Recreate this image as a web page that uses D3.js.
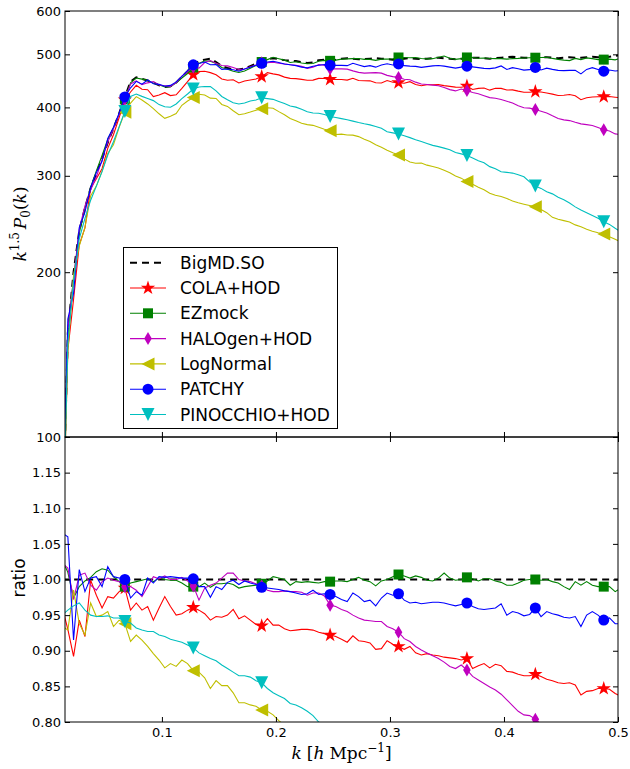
<!DOCTYPE html>
<html>
<head>
<meta charset="utf-8">
<script src="https://cdn.jsdelivr.net/npm/d3@7"></script>
<style>
  body { margin: 0; background: #fff; }
  svg { display: block; }
  text { font-family: "DejaVu Sans", sans-serif; fill: #000; }
</style>
</head>
<body>
<svg id="chart" width="630" height="769"></svg>
<script>
// Wavenumbers of the measured power spectrum bins [h/Mpc]
const kVals = [
  0.0125,0.0175,0.0225,0.0275,0.0325,0.0375,0.0425,0.0475,0.0525,0.0575,
  0.0625,0.0675,0.0725,0.0775,0.0825,0.0875,0.0925,0.0975,0.1025,0.1075,
  0.1125,0.1175,0.1225,0.1275,0.1325,0.1375,0.1425,0.1475,0.1525,0.1575,
  0.1625,0.1675,0.1725,0.1775,0.1825,0.1875,0.1925,0.1975,0.2025,0.2075,
  0.2125,0.2175,0.2225,0.2275,0.2325,0.2375,0.2425,0.2475,0.2525,0.2575,
  0.2625,0.2675,0.2725,0.2775,0.2825,0.2875,0.2925,0.2975,0.3025,0.3075,
  0.3125,0.3175,0.3225,0.3275,0.3325,0.3375,0.3425,0.3475,0.3525,0.3575,
  0.3625,0.3675,0.3725,0.3775,0.3825,0.3875,0.3925,0.3975,0.4025,0.4075,
  0.4125,0.4175,0.4225,0.4275,0.4325,0.4375,0.4425,0.4475,0.4525,0.4575,
  0.4625,0.4675,0.4725,0.4775,0.4825,0.4875,0.4925,0.4975,0.5025
];

// Reference monopole k^1.5 P0(k) of the BigMD.SO catalogue
const bigmdP = [
  62,155,200,238,262,285,303,322,345,366,
  390,418,446,454,451,448,444,439,436,437,
  444,455,466,478,486,489,491,484,476,472,
  469,469,471,476,481,487,490,492,490,488,
  487,486,484,482,483,488,489,488,489,491,
  492,491,490,490,491,492,491,490,489,490,
  491,492,491,490,491,492,493,492,491,490,
  491,492,493,493,492,491,492,493,494,495,
  494,493,493,493,494,494,493,492,493,494,
  493,493,494,495,494,494,495,497,498
];

// Ratio of each mock monopole to the BigMD.SO reference
const colaRatio = [
  0.962,0.930,0.892,0.943,0.920,0.999,0.978,0.960,0.976,0.974,
  0.983,0.988,0.957,0.967,0.957,0.962,0.943,0.960,0.976,0.962,
  0.950,0.952,0.957,0.961,0.957,0.952,0.943,0.948,0.947,0.950,
  0.958,0.945,0.949,0.943,0.937,0.935,0.945,0.936,0.936,0.931,
  0.928,0.929,0.930,0.930,0.929,0.926,0.924,0.922,0.920,0.916,
  0.912,0.921,0.914,0.913,0.911,0.902,0.903,0.914,0.909,0.906,
  0.902,0.906,0.897,0.894,0.896,0.894,0.893,0.891,0.890,0.889,
  0.887,0.889,0.875,0.879,0.882,0.876,0.881,0.879,0.871,0.870,
  0.867,0.865,0.865,0.867,0.864,0.860,0.858,0.855,0.854,0.855,
  0.852,0.838,0.843,0.844,0.847,0.847,0.846,0.840,0.836
];
const ezmockRatio = [
  1.028,1.010,0.974,0.990,0.998,1.003,1.011,1.015,1.013,1.004,
  0.997,0.990,0.995,0.997,0.999,1.001,0.997,1.002,1.000,0.999,
  0.999,0.995,0.990,0.990,0.990,0.995,0.989,0.994,0.994,0.995,
  0.993,0.988,0.990,0.991,0.992,0.994,0.998,1.004,1.002,1.000,
  0.992,0.997,0.996,0.997,0.996,0.995,0.997,0.997,0.998,0.998,
  0.997,1.000,1.003,0.999,0.997,0.991,0.998,1.000,1.004,1.007,
  1.005,1.002,1.005,1.003,0.999,0.998,1.002,1.009,1.002,0.999,
  1.000,1.003,1.001,0.998,1.001,1.001,0.998,0.996,0.992,0.992,
  0.995,0.999,1.000,1.000,0.999,1.000,0.997,0.995,0.990,0.986,
  0.997,0.992,0.997,0.992,0.990,0.990,0.990,0.983,0.988
];
const halogenRatio = [
  1.023,1.016,0.972,1.006,1.009,0.992,0.985,0.997,1.002,0.999,
  0.997,0.990,0.990,0.985,0.976,0.990,1.004,1.001,1.005,1.000,
  1.000,1.003,0.998,0.991,0.971,0.988,0.992,0.995,1.002,1.009,
  1.009,1.000,0.998,0.997,0.994,0.991,0.985,0.983,0.983,0.984,
  0.983,0.983,0.982,0.978,0.981,0.981,0.977,0.964,0.962,0.958,
  0.955,0.950,0.946,0.943,0.942,0.941,0.941,0.934,0.931,0.926,
  0.917,0.913,0.906,0.901,0.897,0.893,0.889,0.884,0.878,0.875,
  0.880,0.873,0.864,0.859,0.854,0.849,0.845,0.839,0.831,0.823,
  0.815,0.810,0.809,0.804,0.797,0.791,0.783,0.776,0.770,0.766,
  0.762,0.757,0.753,0.749,0.744,0.737,0.732,0.720,0.716
];
const lognormalRatio = [
  0.935,0.929,0.985,0.938,0.922,0.967,0.948,0.950,0.955,0.934,
  0.943,0.938,0.913,0.922,0.915,0.906,0.896,0.887,0.876,0.882,
  0.878,0.887,0.882,0.872,0.870,0.862,0.847,0.858,0.851,0.851,
  0.841,0.827,0.827,0.824,0.822,0.817,0.815,0.810,0.802,0.795,
  0.784,0.778,0.773,0.772,0.768,0.754,0.746,0.743,0.730,0.728,
  0.724,0.725,0.722,0.714,0.706,0.695,0.689,0.682,0.676,0.668,
  0.656,0.646,0.644,0.646,0.639,0.634,0.629,0.624,0.619,0.612,
  0.605,0.595,0.587,0.580,0.575,0.568,0.562,0.558,0.552,0.545,
  0.542,0.540,0.537,0.534,0.527,0.520,0.511,0.508,0.504,0.500,
  0.495,0.491,0.485,0.480,0.478,0.4755,0.469,0.462,0.456
];
const patchyRatio = [
  1.065,1.060,0.915,1.014,0.983,1.002,1.004,0.990,1.018,1.004,
  1.002,1.000,0.974,0.983,0.978,1.002,0.995,1.004,1.003,1.004,
  1.003,1.002,1.002,1.001,0.990,0.990,0.975,0.990,0.986,0.996,
  0.999,0.993,0.998,0.995,0.993,0.989,0.988,0.987,0.986,0.984,
  0.983,0.981,0.979,0.980,0.985,0.979,0.980,0.979,0.976,0.972,
  0.969,0.981,0.976,0.969,0.971,0.963,0.974,0.981,0.978,0.980,
  0.971,0.967,0.968,0.966,0.967,0.968,0.968,0.967,0.965,0.963,
  0.965,0.967,0.962,0.959,0.958,0.959,0.960,0.966,0.950,0.955,
  0.953,0.949,0.951,0.960,0.948,0.955,0.952,0.950,0.947,0.946,
  0.948,0.934,0.950,0.955,0.950,0.943,0.946,0.938,0.938
];
const pinocchioRatio = [
  0.950,0.957,0.963,0.967,0.957,0.950,0.948,0.948,0.949,0.946,
  0.946,0.941,0.939,0.932,0.929,0.927,0.927,0.922,0.920,0.916,
  0.914,0.912,0.908,0.904,0.897,0.893,0.889,0.886,0.880,0.875,
  0.870,0.865,0.865,0.863,0.858,0.855,0.847,0.841,0.837,0.833,
  0.826,0.824,0.820,0.815,0.809,0.800,0.794,0.789,0.784,0.777,
  0.772,0.769,0.766,0.762,0.757,0.750,0.746,0.737,0.735,0.730,
  0.723,0.716,0.711,0.707,0.700,0.693,0.688,0.685,0.682,0.675,
  0.670,0.664,0.656,0.648,0.644,0.635,0.628,0.619,0.616,0.613,
  0.610,0.606,0.593,0.583,0.576,0.568,0.564,0.557,0.550,0.5415,
  0.534,0.527,0.520,0.513,0.508,0.5006,0.494,0.484,0.476
];

const refName = "BigMD.SO";
const mockNames = ["COLA+HOD", "EZmock", "HALOgen+HOD", "LogNormal", "PATCHY", "PINOCCHIO+HOD"];
const mockRatios = [colaRatio, ezmockRatio, halogenRatio, lognormalRatio, patchyRatio, pinocchioRatio];

const topTicks = [100, 200, 300, 400, 500, 600];
const ratioTicks = [0.80, 0.85, 0.90, 0.95, 1.00, 1.05, 1.10, 1.15];
const kTicks = [0.1, 0.2, 0.3, 0.4, 0.5];

// ---- styling ----
const mockColors = ["#ff0000", "#008000", "#bf00bf", "#bfbf00", "#0000ff", "#00bfbf"];
const mockShapes = ["star", "square", "thinDiamond", "triLeft", "circle", "triDown"];
const markerEvery = 12, markerOffset = 11;

const L = 65, R = 618, T = 11, MID = 437, B = 722;
const svg = d3.select("#chart");

const x = d3.scaleLinear().domain([0.015, 0.5]).range([L, R]);
const yTop = d3.scaleLog().domain([100, 600]).range([MID, T]);
const yBot = d3.scaleLinear().domain([0.8, 1.2]).range([B, MID]);

function markerPath(shape) {
  switch (shape) {
    case "circle": return d3.symbol(d3.symbolCircle, Math.PI * 5.5 * 5.5)();
    case "square": return "M-5,-5h10v10h-10Z";
    case "star": return d3.symbol(d3.symbolStar, 64)();
    case "thinDiamond": return "M0,-6.5L3.8,0L0,6.5L-3.8,0Z";
    case "triLeft": return "M-6.5,0L6.5,-6.5L6.5,6.5Z";
    case "triDown": return "M0,6.5L-6.5,-6.5L6.5,-6.5Z";
  }
}

const defs = svg.append("defs");
defs.append("clipPath").attr("id", "clipTop")
  .append("rect").attr("x", L).attr("y", T).attr("width", R - L).attr("height", MID - T);
defs.append("clipPath").attr("id", "clipBot")
  .append("rect").attr("x", L).attr("y", MID).attr("width", R - L).attr("height", B - MID);

function drawPanel(clipId, yScale, refValues, mockValues) {
  const g = svg.append("g").attr("clip-path", `url(#${clipId})`);
  const line = d3.line().x(d => x(d.k)).y(d => yScale(d.v));
  const refPts = kVals.map((k, i) => ({ k, v: refValues[i] }));
  g.append("path").datum(refPts)
    .attr("d", line).attr("fill", "none")
    .attr("stroke", "#000").attr("stroke-width", 2).attr("stroke-dasharray", "7,5");
  mockValues.forEach((vals, j) => {
    const pts = kVals.map((k, i) => ({ k, v: vals[i] }));
    g.append("path").datum(pts)
      .attr("d", line).attr("fill", "none")
      .attr("stroke", mockColors[j]).attr("stroke-width", 1.1);
    g.selectAll(null)
      .data(pts.filter((d, i) => i % markerEvery === markerOffset))
      .join("path")
      .attr("d", markerPath(mockShapes[j]))
      .attr("transform", d => `translate(${x(d.k)},${yScale(d.v)})`)
      .attr("fill", mockColors[j]);
  });
}

// Upper panel: k^1.5 P0(k), mocks = ratio x reference
drawPanel("clipTop", yTop, bigmdP,
  mockRatios.map(r => r.map((v, i) => v * bigmdP[i])));
// Lower panel: ratio to the reference
drawPanel("clipBot", yBot, kVals.map(() => 1), mockRatios);

// ---- axes ----
function styleAxis(g) {
  g.select(".domain").remove();
  g.selectAll(".tick line").attr("stroke", "#000");
  g.selectAll(".tick text").attr("font-size", 13).attr("font-family", "DejaVu Sans, sans-serif");
}
const tk = -5;

svg.append("g").attr("transform", `translate(${L},0)`)
  .call(d3.axisLeft(yTop).tickValues(topTicks).tickFormat(d3.format("d")).tickSizeInner(tk).tickSizeOuter(0).tickPadding(4))
  .call(styleAxis);
svg.append("g").attr("transform", `translate(${R},0)`)
  .call(d3.axisRight(yTop).tickValues(topTicks).tickFormat("").tickSizeInner(tk).tickSizeOuter(0))
  .call(styleAxis);
svg.append("g").attr("transform", `translate(0,${T})`)
  .call(d3.axisTop(x).tickValues(kTicks).tickFormat("").tickSizeInner(tk).tickSizeOuter(0))
  .call(styleAxis);
svg.append("g").attr("transform", `translate(0,${MID})`)
  .call(d3.axisBottom(x).tickValues(kTicks).tickFormat("").tickSizeInner(tk).tickSizeOuter(0))
  .call(styleAxis);

svg.append("g").attr("transform", `translate(${L},0)`)
  .call(d3.axisLeft(yBot).tickValues(ratioTicks).tickFormat(d3.format(".2f")).tickSizeInner(tk).tickSizeOuter(0).tickPadding(4))
  .call(styleAxis);
svg.append("g").attr("transform", `translate(${R},0)`)
  .call(d3.axisRight(yBot).tickValues(ratioTicks).tickFormat("").tickSizeInner(tk).tickSizeOuter(0))
  .call(styleAxis);
svg.append("g").attr("transform", `translate(0,${MID})`)
  .call(d3.axisTop(x).tickValues(kTicks).tickFormat("").tickSizeInner(tk).tickSizeOuter(0))
  .call(styleAxis);
svg.append("g").attr("transform", `translate(0,${B})`)
  .call(d3.axisBottom(x).tickValues(kTicks).tickFormat(d3.format(".1f")).tickSizeInner(tk).tickSizeOuter(0).tickPadding(6))
  .call(styleAxis);

// panel frames
[[T, MID], [MID, B]].forEach(([y0, y1]) => {
  svg.append("rect").attr("x", L).attr("y", y0).attr("width", R - L).attr("height", y1 - y0)
    .attr("fill", "none").attr("stroke", "#000").attr("stroke-width", 1);
});

// ---- axis labels ----
const yLab = svg.append("text")
  .attr("transform", "translate(26,224) rotate(-90)")
  .attr("text-anchor", "middle")
  .style("font-family", "DejaVu Serif, serif")
  .attr("font-size", 17);
yLab.append("tspan").attr("font-style", "italic").text("k");
yLab.append("tspan").attr("dy", -7).attr("font-size", 12).text("1.5");
yLab.append("tspan").attr("dy", 7).attr("dx", 3).attr("font-style", "italic").text("P");
yLab.append("tspan").attr("dy", 4).attr("font-size", 12).text("0");
yLab.append("tspan").attr("dy", -4).text("(");
yLab.append("tspan").attr("font-style", "italic").text("k");
yLab.append("tspan").text(")");

svg.append("text")
  .attr("transform", "translate(25,578) rotate(-90)")
  .attr("text-anchor", "middle")
  .attr("font-size", 17)
  .text("ratio");

const xLab = svg.append("text")
  .attr("x", (L + R) / 2).attr("y", 759)
  .attr("text-anchor", "middle")
  .style("font-family", "DejaVu Serif, serif")
  .attr("font-size", 17);
xLab.append("tspan").attr("font-style", "italic").text("k");
xLab.append("tspan").attr("dx", 5).text("[");
xLab.append("tspan").attr("font-style", "italic").text("h");
xLab.append("tspan").attr("dx", 5).text("Mpc");
xLab.append("tspan").attr("dy", -7).attr("font-size", 12).text("\u22121");
xLab.append("tspan").attr("dy", 7).text("]");

// ---- legend ----
const lg = svg.append("g");
lg.append("rect").attr("x", 123.5).attr("y", 247.5).attr("width", 214).attr("height", 181)
  .attr("fill", "#fff").attr("stroke", "#000").attr("stroke-width", 1);
const rowY = j => 262.7 + 25.3 * j;
lg.append("line").attr("x1", 130).attr("x2", 166).attr("y1", rowY(0)).attr("y2", rowY(0))
  .attr("stroke", "#000").attr("stroke-width", 2).attr("stroke-dasharray", "7,5");
lg.append("text").attr("x", 180).attr("y", rowY(0)).attr("dy", "0.36em").attr("font-size", 17).text(refName);
mockNames.forEach((name, j) => {
  const yy = rowY(j + 1);
  lg.append("line").attr("x1", 130).attr("x2", 166).attr("y1", yy).attr("y2", yy)
    .attr("stroke", mockColors[j]).attr("stroke-width", 1.1);
  lg.append("path").attr("d", markerPath(mockShapes[j]))
    .attr("transform", `translate(148,${yy})`).attr("fill", mockColors[j]);
  lg.append("text").attr("x", 180).attr("y", yy).attr("dy", "0.36em").attr("font-size", 17).text(name);
});
</script>
</body>
</html>
